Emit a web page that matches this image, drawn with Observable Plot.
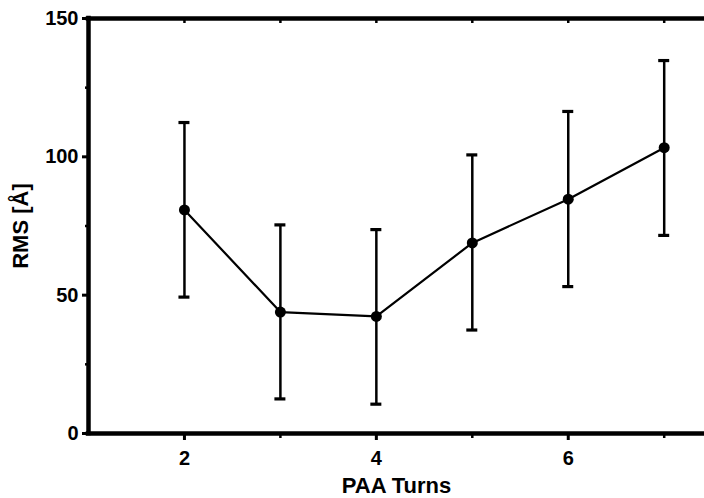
<!DOCTYPE html>
<html>
<head>
<meta charset="utf-8">
<script src="https://cdn.jsdelivr.net/npm/d3@7"></script>
<script src="https://cdn.jsdelivr.net/npm/@observablehq/plot@0.6"></script>
<style>
  html, body { margin: 0; padding: 0; background: #fff; }
  #chart svg { display: block; }
</style>
</head>
<body>
<div id="chart"></div>
<script>
// Data
const turns = [2, 3, 4, 5, 6, 7];
const rmsMean = [80.8, 43.9, 42.3, 68.9, 84.7, 103.3];
const rmsLow  = [49.3, 12.5, 10.6, 37.4, 53.1, 71.6];
const rmsHigh = [112.4, 75.4, 73.7, 100.7, 116.4, 134.8];

const yMajor = [0, 50, 100, 150];
const yMinor = [25, 75, 125];
const xMajor = [2, 4, 6];
const xMinor = [3, 5, 7];
const xTop = [2, 3, 4, 5, 6, 7];

const data = turns.map((t, i) => ({x: t, y: rmsMean[i], lo: rmsLow[i], hi: rmsHigh[i]}));

const chart = Plot.plot({
  width: 704,
  height: 498,
  marginLeft: 88,
  marginTop: 18,
  marginBottom: 65,
  marginRight: 0,
  style: {fontFamily: "'Liberation Sans', Arial, sans-serif", fontWeight: "bold", fontSize: "20px", color: "#000", background: "#fff"},
  x: {domain: [1, 7.42]},
  y: {domain: [0, 150]},
  marks: [
    // axes (ticks + tick labels)
    Plot.axisY({ticks: yMajor, tickFormat: d3.format("d"), tickSize: 6, tickPadding: 4, strokeWidth: 3, label: null, fontSize: 20}),
    Plot.axisX({ticks: xMajor, tickFormat: d3.format("d"), tickSize: 7, tickPadding: 10, strokeWidth: 3, label: null, fontSize: 20}),
    // axis titles
    Plot.axisY({ticks: [], label: "RMS [Å]", labelAnchor: "center", labelArrow: "none", labelOffset: 76, fontSize: 22}),
    Plot.axisX({ticks: [], label: "PAA Turns", labelAnchor: "center", labelArrow: "none", labelOffset: 59, fontSize: 22}),
    // minor ticks
    Plot.ruleY(yMinor, {y: d => d, x1: 1, x2: 1, insetLeft: -3, strokeWidth: 2.5}),
    Plot.ruleX(xMinor, {x: d => d, y1: 0, y2: 0, insetBottom: -5, strokeWidth: 2.5}),
    Plot.ruleX(xTop, {x: d => d, y1: 150, y2: 150, insetBottom: -5, strokeWidth: 2.5}),
    // frame
    Plot.ruleX([1], {strokeWidth: 4.5, strokeLinecap: "square"}),
    Plot.ruleY([0, 150], {strokeWidth: 4.5, strokeLinecap: "square"}),
    // error bars
    Plot.ruleX(data, {x: "x", y1: "lo", y2: "hi", strokeWidth: 2.5}),
    Plot.ruleY(data, {y: "hi", x1: "x", x2: "x", insetLeft: -5.5, insetRight: -5.5, strokeWidth: 3.2}),
    Plot.ruleY(data, {y: "lo", x1: "x", x2: "x", insetLeft: -5.5, insetRight: -5.5, strokeWidth: 3.2}),
    // line and points
    Plot.line(data, {x: "x", y: "y", strokeWidth: 2.2}),
    Plot.dot(data, {x: "x", y: "y", r: 5.5, fill: "#000", stroke: "none"})
  ]
});
document.getElementById("chart").appendChild(chart);
</script>
</body>
</html>
